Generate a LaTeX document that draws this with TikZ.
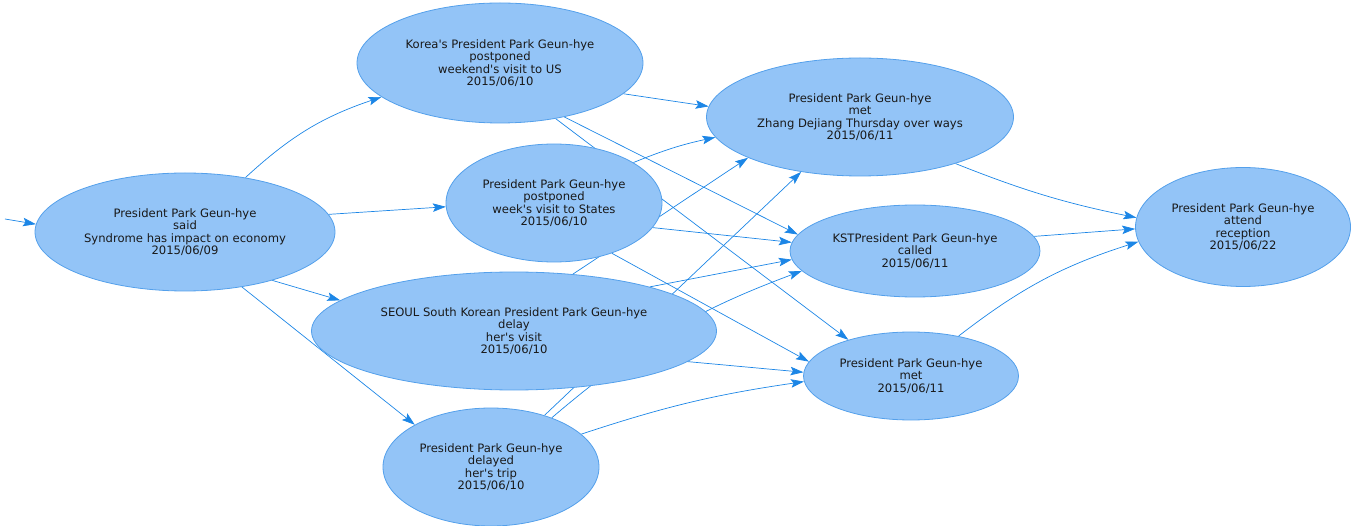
\documentclass[tikz,border=0pt]{standalone}
\usepackage{fontspec}
\setmainfont{DejaVu Sans}
\usetikzlibrary{arrows.meta,shapes.geometric,backgrounds}
\definecolor{evfill}{RGB}{147,196,247}
\definecolor{evline}{RGB}{84,160,235}
\definecolor{lnkcol}{RGB}{28,134,230}
\newcommand{\ap}{\textquotesingle}
\begin{document}
\begin{tikzpicture}[x=1pt,y=1pt,
	ev/.style={ellipse,draw=evline,fill=evfill,line width=0.8pt,inner sep=0pt,align=center,
		font=\fontsize{11.6}{12.4}\selectfont,text=black!90},
	lnk/.style={draw=lnkcol,line width=0.7pt,-{Stealth[length=13pt,width=8.5pt,inset=2.5pt]}}]
		\useasboundingbox (0,0) rectangle (1357,-526);
		\node[ev,minimum width=300pt,minimum height=118pt] (said) at (185,-232) {President Park Geun-hye\\said\\Syndrome has impact on economy\\2015/06/09};
		\node[ev,minimum width=286pt,minimum height=120pt] (pstUS) at (500,-63) {Korea\ap s President Park Geun-hye\\postponed\\weekend\ap s visit to US\\2015/06/10};
		\node[ev,minimum width=216pt,minimum height=118pt] (pstStates) at (554,-203) {President Park Geun-hye\\postponed\\week\ap s visit to States\\2015/06/10};
		\node[ev,minimum width=405pt,minimum height=118pt] (delay) at (514,-331) {SEOUL South Korean President Park Geun-hye\\delay\\her\ap s visit\\2015/06/10};
		\node[ev,minimum width=216pt,minimum height=118pt] (delayed) at (491,-467) {President Park Geun-hye\\delayed\\her\ap s trip\\2015/06/10};
		\node[ev,minimum width=307pt,minimum height=118pt] (metZhang) at (860,-117) {President Park Geun-hye\\met\\Zhang Dejiang Thursday over ways\\2015/06/11};
		\node[ev,minimum width=250pt,minimum height=92pt] (called) at (915,-251) {KSTPresident Park Geun-hye\\called\\2015/06/11};
		\node[ev,minimum width=215pt,minimum height=88pt] (met) at (911,-376) {President Park Geun-hye\\met\\2015/06/11};
		\node[ev,minimum width=215pt,minimum height=119pt] (attend) at (1243,-227) {President Park Geun-hye\\attend\\reception\\2015/06/22};
		\coordinate (start) at (5,-219);
		\begin{scope}[on background layer]
		% june 9
		\draw[lnk] (start) -- (said.177);
		\draw[lnk] (said.42) to[bend left=12] (pstUS.-164);
		\draw[lnk] (said.7) -- (pstStates.182);
		\draw[lnk] (said.-29) -- (delay.170);
		\draw[lnk] (said.-44) -- (delayed.151);
		% june 10 -> june 11
		\draw[lnk] (pstUS.-14) -- (metZhang.176);
		\draw[lnk] (pstUS.-40) -- (called.172);
		\draw[lnk] (pstUS.-45) -- (met.150);
		\draw[lnk] (pstStates.27) to[bend left=5] (metZhang.-172);
		\draw[lnk] (pstStates.-14) -- (called.176);
		\draw[lnk] (pstStates.-41) -- (met.172);
		\draw[lnk] (delay.44) -- (metZhang.-160);
		\draw[lnk] (delay.18) -- (called.-176);
		\draw[lnk] (delay.-10) -- (met.178);
		\draw[lnk] (delayed.44) -- (metZhang.-137);
		\draw[lnk] (delayed.39) to[bend left=10] (called.-170);
		\draw[lnk] (delayed.20) to[bend left=5] (met.-177);
		% june 11 -> june 22
		\draw[lnk] (metZhang.-26) to[bend right=5] (attend.175);
		\draw[lnk] (called.7) -- (attend.181);
		\draw[lnk] (met.40) to[bend left=10] (attend.-172);
		\end{scope}
	\end{tikzpicture}
\end{document}
